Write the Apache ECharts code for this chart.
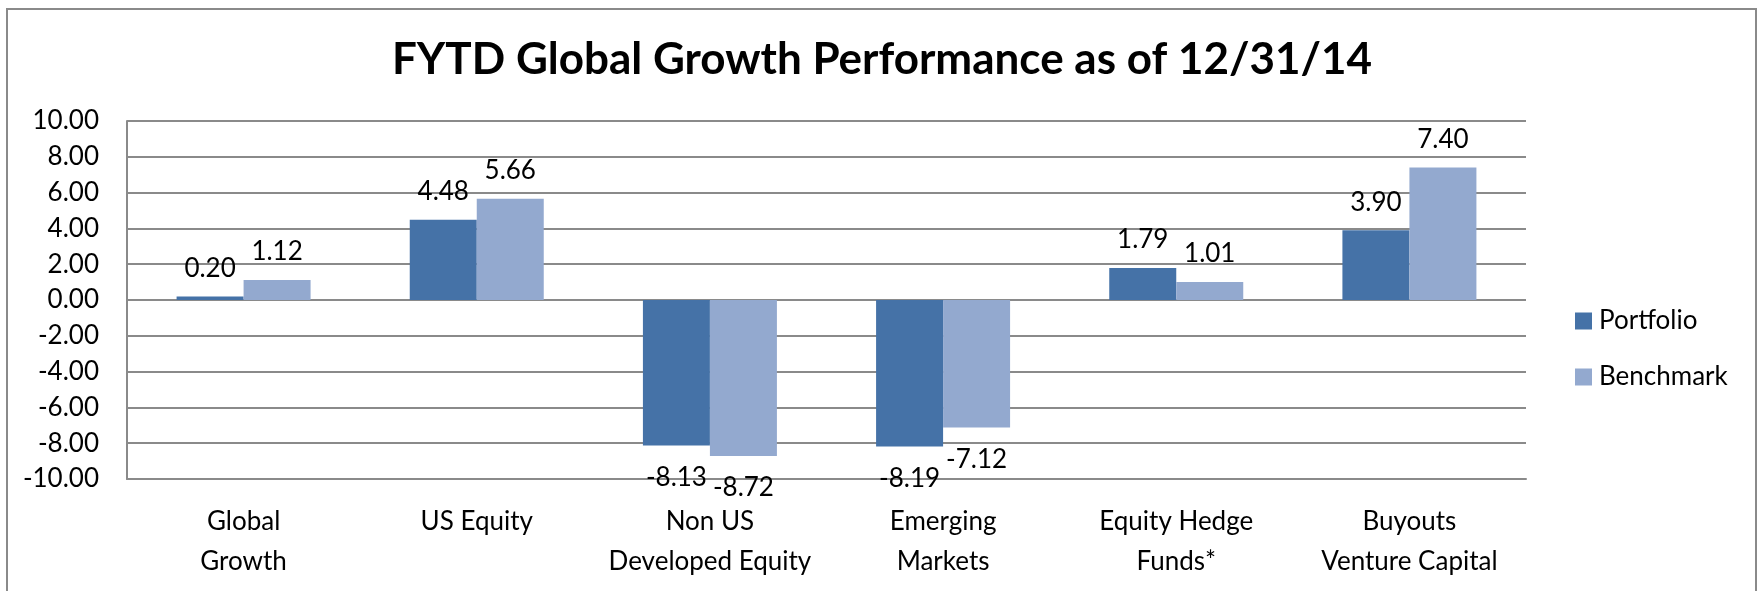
<!DOCTYPE html>
<html>
<head>
<meta charset="utf-8">
<script src="https://cdn.jsdelivr.net/npm/echarts@6/dist/echarts.min.js"></script>
<style>
  html, body { margin: 0; padding: 0; background: #fff; }
  #chart { width: 1764px; height: 591px; }
</style>
</head>
<body>
<div id="chart"></div>
<script>
// 数据
const categories = ['Global\nGrowth', 'US Equity', 'Non US\nDeveloped Equity', 'Emerging\nMarkets', 'Equity Hedge\nFunds*', 'Buyouts\nVenture Capital'];
const portfolio = [0.20, 4.48, -8.13, -8.19, 1.79, 3.90];
const benchmark = [1.12, 5.66, -8.72, -7.12, 1.01, 7.40];
const seriesNames = ['Portfolio', 'Benchmark'];
const yTicks = { min: -10, max: 10, interval: 2 };

const FONT = 'Lato, "Open Sans", sans-serif';
const FS = 26;

// 正值标签放在上方，负值放在下方
function toItems(values) {
    return values.map(v => ({
        value: v,
        label: v >= 0 ? { position: 'top', distance: 15 } : { position: 'bottom', distance: 19 }
    }));
}

const chart = echarts.init(document.getElementById('chart'));

const labelStyle = {
    show: true,
    color: '#000',
    fontFamily: FONT,
    fontSize: FS,
    formatter: p => p.value.toFixed(2)
};

chart.setOption({
    backgroundColor: '#fff',
    animation: false,
    title: {
        text: 'FYTD Global Growth Performance as of 12/31/14',
        left: 'center',
        top: 33,
        textStyle: { fontFamily: FONT, fontWeight: 'bold', fontSize: 44, color: '#000' }
    },
    graphic: [{
        type: 'rect',
        shape: { x: 7, y: 9, width: 1749, height: 600 },
        style: { fill: 'none', stroke: '#8a8a8a', lineWidth: 2 },
        silent: true
    }],
    legend: {
        orient: 'vertical',
        left: 1570,
        top: 303,
        itemWidth: 17,
        itemHeight: 17,
        itemGap: 30,
        icon: 'rect',
        textStyle: { fontFamily: FONT, fontSize: FS, lineHeight: 24, color: '#000', padding: [0, 0, 0, 2] },
        data: seriesNames
    },
    grid: { left: 127, right: 238, top: 121, bottom: 112 },
    xAxis: {
        type: 'category',
        data: categories,
        axisLine: { onZero: false, lineStyle: { color: '#8a8a8a', width: 2 } },
        axisTick: { show: false },
        axisLabel: { color: '#000', fontFamily: FONT, fontSize: FS, lineHeight: 40, margin: 23, interval: 0 }
    },
    yAxis: {
        type: 'value',
        min: yTicks.min,
        max: yTicks.max,
        interval: yTicks.interval,
        axisLine: { show: true, lineStyle: { color: '#8a8a8a', width: 2 } },
        axisTick: { show: false },
        splitLine: { lineStyle: { color: '#8a8a8a', width: 2 } },
        axisLabel: { color: '#000', fontFamily: FONT, fontSize: FS, margin: 28, formatter: v => v.toFixed(2) }
    },
    series: [
        {
            name: seriesNames[0],
            type: 'bar',
            data: toItems(portfolio),
            barWidth: 67,
            barGap: '0%',
            itemStyle: { color: '#4572A7' },
            label: labelStyle
        },
        {
            name: seriesNames[1],
            type: 'bar',
            data: toItems(benchmark),
            barWidth: 67,
            barGap: '0%',
            itemStyle: { color: '#93A9CF' },
            label: labelStyle
        }
    ]
});
</script>
</body>
</html>
